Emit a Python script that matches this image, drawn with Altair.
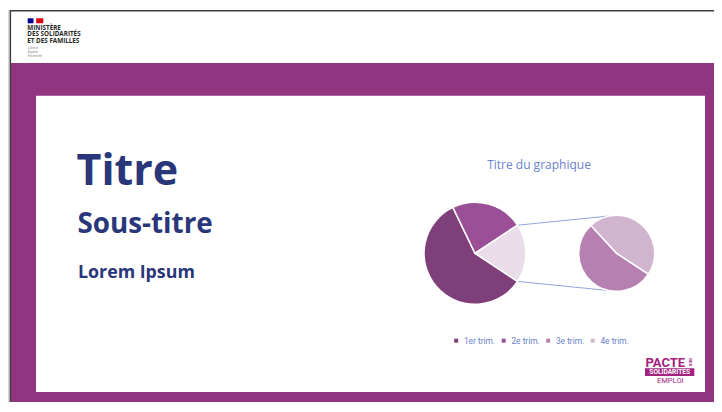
import math
import altair as alt
import pandas as pd

# ---------------- data ----------------
quarters = ["1er trim.", "2e trim.", "3e trim.", "4e trim."]
values = [8.2, 3.2, 1.4, 1.2]
quarter_colors = ["#7f3f7a", "#9b4f96", "#b680b1", "#d1b5cf"]
other_label = "Autre"
other_color = "#e9dde9"
n_main = 2  # quarters shown directly in the main pie

chart_title = "Titre du graphique"
slide_title = "Titre"
slide_subtitle = "Sous-titre"
slide_text = "Lorem Ipsum"
ministry_lines = ["MINISTÈRE", "DES SOLIDARITÉS", "ET DES FAMILLES"]
motto_lines = ["Liberté", "Égalité", "Fraternité"]

# ---------------- layout helpers ----------------
W, H = 706, 394
OX, OY = 8, 8  # page margin


def px(x):
    return x - OX


def py(y):
    return y - OY


one = pd.DataFrame({"k": [0]})
base = alt.Chart(one)


def rect(x1, y1, x2, y2, color):
    return base.mark_rect(color=color).encode(
        x=alt.value(px(x1)), x2=alt.value(px(x2)),
        y=alt.value(py(y1)), y2=alt.value(py(y2)))


def rule(x1, y1, x2, y2, color, w):
    return base.mark_rule(color=color, strokeWidth=w).encode(
        x=alt.value(px(x1)), x2=alt.value(px(x2)),
        y=alt.value(py(y1)), y2=alt.value(py(y2)))


def text(s, x, y, size, color, weight="normal", align="left",
         font="Open Sans", angle=0, baseline="alphabetic", style="normal",
         line_height=None):
    kw = dict(fontSize=size, color=color, fontWeight=weight, align=align,
              font=font, baseline=baseline, fontStyle=style)
    if angle:
        kw["angle"] = angle
    if line_height:
        kw["lineBreak"] = "\n"
        kw["lineHeight"] = line_height
    return base.mark_text(**kw).encode(
        text=alt.value(s), x=alt.value(px(x)), y=alt.value(py(y)))


layers = []
RIGHT, BOTTOM = OX + W, OY + H

# frame
layers.append(rect(10.5, 63, RIGHT, BOTTOM, "#923581"))
layers.append(rect(36, 95.7, 705, 392, "#ffffff"))
layers.append(rule(10, 10.8, RIGHT, 10.8, "#3c3c3c", 1.6))
layers.append(rule(10.3, 10, 10.3, BOTTOM, "#3c3c3c", 1.6))
layers.append(rule(8.8, 10, 8.8, BOTTOM, "#c8c8c8", 1))

# ministry logo
layers.append(rect(27.7, 18.3, 33.5, 23.3, "#000091"))
layers.append(rect(36.2, 18.3, 43.3, 23.3, "#e1000f"))
layers.append(text("\n".join(ministry_lines), 27.3, 29.6, 6.3, "#262626",
                   weight="bold", line_height=6.6))
layers.append(text("\n".join(motto_lines), 27.8, 48.5, 3.4, "#8a8a8a",
                   style="italic", font="Roboto", line_height=4.2))

# slide titles
navy = "#293679"
layers.append(text(slide_title, 76.5, 185, 43, navy, weight="bold"))
layers.append(text(slide_subtitle, 77.5, 232.7, 27.8, navy, weight="bold"))
layers.append(text(slide_text, 78, 278.3, 17.8, navy, weight="bold"))

# chart title
blue = "#6b82cc"
layers.append(text(chart_title, 539, 169, 12, blue, align="center"))

# pies
total = sum(values)
other_val = sum(values[n_main:])
frac = other_val / total
start = math.pi / 2 + math.pi * frac
theta_range = [start, start + 2 * math.pi]

main_df = pd.DataFrame({
    "cat": quarters[:n_main] + [other_label],
    "val": values[:n_main] + [other_val],
    "idx": list(range(n_main + 1)),
})
sec_df = pd.DataFrame({
    "cat": quarters[n_main:],
    "val": values[n_main:],
    "idx": list(range(len(values) - n_main)),
})

MCX, MCY, MR = 475, 253.3, 51
SCX, SCY, SR = 616.7, 253.3, 38

legend = alt.Legend(values=quarters, orient="none", legendX=px(452),
                    legendY=py(336.3), direction="horizontal", title=None,
                    symbolType="square", symbolSize=16, symbolStrokeWidth=0,
                    labelFontSize=8.4, labelFont="Roboto", labelColor=blue,
                    labelOffset=3.5, columnPadding=3.5, padding=0)
color = alt.Color("cat:N",
                  scale=alt.Scale(domain=quarters + [other_label],
                                  range=quarter_colors + [other_color]),
                  legend=legend)

main_pie = alt.Chart(main_df).mark_arc(
    outerRadius=MR, stroke="white", strokeWidth=1.5).encode(
    theta=alt.Theta("val:Q", stack=True, scale=alt.Scale(range=theta_range)),
    order=alt.Order("idx:Q"),
    color=color,
    x=alt.value(px(MCX)), y=alt.value(py(MCY)))

sec_pie = alt.Chart(sec_df).mark_arc(
    outerRadius=SR, stroke="white", strokeWidth=1.5).encode(
    theta=alt.Theta("val:Q", stack=True, scale=alt.Scale(range=theta_range)),
    order=alt.Order("idx:Q"),
    color=color,
    x=alt.value(px(SCX)), y=alt.value(py(SCY)))


def pol(cx, cy, r, a):
    return cx + r * math.sin(a), cy - r * math.cos(a)


b1 = pol(MCX, MCY, MR, start + 2 * math.pi * (1 - frac))
b2 = pol(MCX, MCY, MR, start)
e1 = pol(SCX, SCY, SR, math.radians(-10))
e2 = pol(SCX, SCY, SR, math.radians(190))
line_col = "#95a4da"
layers.append(rule(b1[0], b1[1], e1[0], e1[1], line_col, 1))
layers.append(rule(b2[0], b2[1], e2[0], e2[1], line_col, 1))

# PACTE logo
mag = "#a42280"
layers.append(text("PACTE", 645.5, 367.3, 13, mag, weight="bold", font="Roboto"))
layers.append(text("DES", 690.2, 362.2, 4.4, mag, weight="bold", font="Roboto",
                   angle=90, align="center", baseline="middle"))
layers.append(rect(645, 368.3, 694.3, 376, mag))
layers.append(text("SOLIDARITÉS", 669.7, 372.4, 6.6, "#ffffff", weight="bold",
                   font="Roboto", align="center", baseline="middle"))
layers.append(text("EMPLOI", 670.3, 383.3, 7.5, mag, font="Roboto", align="center"))

chart = alt.layer(*layers, main_pie, sec_pie).resolve_scale(
    theta="independent"
).properties(
    width=W, height=H, padding=0, autosize="none", background="white"
).configure_view(strokeWidth=0)

chart.save("out.html", embed_options={"renderer": "svg", "actions": False})
